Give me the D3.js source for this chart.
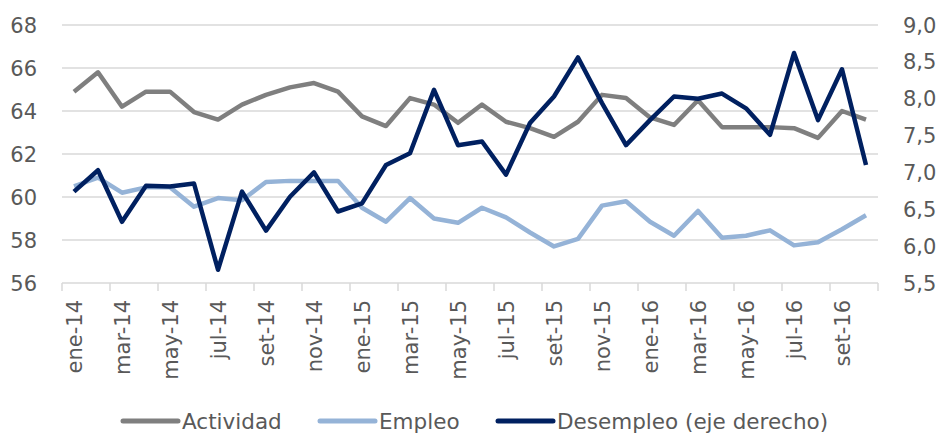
<!DOCTYPE html>
<html lang="es">
<head>
    <meta charset="UTF-8">
    <title>Actividad, Empleo y Desempleo</title>
    <style>
        body {
            margin: 0;
            background: #fff;
            font-family: "DejaVu Sans", sans-serif;
        }

        .grid line {
            stroke: #d9d9d9;
            stroke-width: 1.5px;
        }

        .tick-label {
            font-size: 21px;
            fill: #595959;
        }

        .legend-label {
            font-size: 21.5px;
            fill: #595959;
        }

        .series {
            fill: none;
            stroke-linejoin: round;
            stroke-linecap: butt;
        }
    </style>
</head>
<body>
    <div id="chart"></div>
    <script src="https://d3js.org/d3.v7.min.js"></script>
    <script>
        const meses = ["ene", "feb", "mar", "abr", "may", "jun", "jul", "ago", "set", "oct", "nov", "dic"];
        const categories = [];
        for (const y of ["14", "15", "16"]) {
            for (const m of meses) categories.push(m + "-" + y);
        }
        categories.length = 34; // ene-14 .. oct-16

        const actividad = [
            64.9, 65.8, 64.2, 64.9, 64.9, 63.95, 63.6, 64.3, 64.75, 65.1, 65.3, 64.9,
            63.75, 63.3, 64.6, 64.3, 63.45, 64.3, 63.5, 63.2, 62.8, 63.5, 64.75, 64.6,
            63.7, 63.35, 64.5, 63.25, 63.25, 63.25, 63.2, 62.75, 64.0, 63.6
        ];
        const empleo = [
            60.5, 60.9, 60.2, 60.45, 60.45, 59.55, 59.95, 59.85, 60.7, 60.75, 60.75, 60.75,
            59.5, 58.85, 59.95, 59.0, 58.8, 59.5, 59.05, 58.35, 57.7, 58.05, 59.6, 59.8,
            58.85, 58.2, 59.35, 58.1, 58.2, 58.45, 57.75, 57.9, 58.5, 59.15
        ];
        const desempleo = [
            6.74, 7.03, 6.33, 6.82, 6.81, 6.85, 5.68, 6.74, 6.21, 6.67, 7.0, 6.47,
            6.58, 7.1, 7.26, 8.12, 7.37, 7.42, 6.97, 7.67, 8.03, 8.56, 7.94, 7.37,
            7.71, 8.03, 8.0, 8.07, 7.87, 7.51, 8.62, 7.71, 8.4, 7.1
        ];

        const leftTicks = [56, 58, 60, 62, 64, 66, 68];
        const rightTicks = [5.5, 6.0, 6.5, 7.0, 7.5, 8.0, 8.5, 9.0];

        const series = [
            { name: "Actividad", values: actividad, color: "#7f7f7f", axis: "left" },
            { name: "Empleo", values: empleo, color: "#95b3d7", axis: "left" },
            { name: "Desempleo (eje derecho)", values: desempleo, color: "#002060", axis: "right" }
        ];

        const width = 941, height = 434;
        const plot = { left: 62, right: 878, top: 25, bottom: 283 };

        const svg = d3.select("#chart").append("svg")
            .attr("width", width)
            .attr("height", height);

        const x = d3.scaleBand()
            .domain(categories)
            .range([plot.left, plot.right])
            .padding(0);

        const yLeft = d3.scaleLinear().domain([56, 68]).range([plot.bottom, plot.top]);
        const yRight = d3.scaleLinear().domain([5.5, 9.0]).range([plot.bottom, plot.top]);

        // gridlines (left axis)
        svg.append("g").attr("class", "grid")
            .selectAll("line")
            .data(leftTicks)
            .enter().append("line")
            .attr("x1", plot.left)
            .attr("x2", plot.right)
            .attr("y1", d => yLeft(d))
            .attr("y2", d => yLeft(d));

        // x ticks at every second band boundary
        const tickPos = categories.filter((c, i) => i % 2 === 0).map(c => x(c)).concat([plot.right]);
        svg.append("g").attr("class", "grid")
            .selectAll("line")
            .data(tickPos)
            .enter().append("line")
            .attr("x1", d => d)
            .attr("x2", d => d)
            .attr("y1", plot.bottom)
            .attr("y2", plot.bottom + 8);

        // left axis labels
        svg.append("g")
            .selectAll("text")
            .data(leftTicks)
            .enter().append("text")
            .attr("class", "tick-label")
            .attr("x", 37)
            .attr("y", d => yLeft(d))
            .attr("dy", "0.36em")
            .attr("text-anchor", "end")
            .text(d => d);

        // right axis labels
        svg.append("g")
            .selectAll("text")
            .data(rightTicks)
            .enter().append("text")
            .attr("class", "tick-label")
            .attr("x", 903)
            .attr("y", d => yRight(d))
            .attr("dy", "0.36em")
            .attr("text-anchor", "start")
            .text(d => d.toFixed(1).replace(".", ","));

        // x labels, rotated
        svg.append("g")
            .selectAll("text")
            .data(categories.filter((c, i) => i % 2 === 0))
            .enter().append("text")
            .attr("class", "tick-label")
            .attr("transform", d => "translate(" + (x(d) + x.bandwidth() / 2) + "," + (plot.bottom + 17) + ") rotate(-90)")
            .attr("dy", "0.36em")
            .attr("text-anchor", "end")
            .text(d => d);

        // lines
        series.forEach(s => {
            const yScale = s.axis === "left" ? yLeft : yRight;
            const line = d3.line()
                .x((d, i) => x(categories[i]) + x.bandwidth() / 2)
                .y(d => yScale(d));
            svg.append("path")
                .datum(s.values)
                .attr("class", "series")
                .attr("stroke", s.color)
                .attr("stroke-width", 4.5)
                .attr("d", line);
        });

        // legend
        const legendX = [123, 320, 498];
        const legend = svg.append("g")
            .selectAll("g")
            .data(series)
            .enter().append("g")
            .attr("transform", (d, i) => "translate(" + legendX[i] + ",421)");

        legend.append("line")
            .attr("x1", 0)
            .attr("x2", 55)
            .attr("stroke", d => d.color)
            .attr("stroke-width", 5)
            .attr("stroke-linecap", "round");

        legend.append("text")
            .attr("class", "legend-label")
            .attr("x", 59)
            .attr("dy", "0.36em")
            .text(d => d.name);
    </script>
</body>
</html>
